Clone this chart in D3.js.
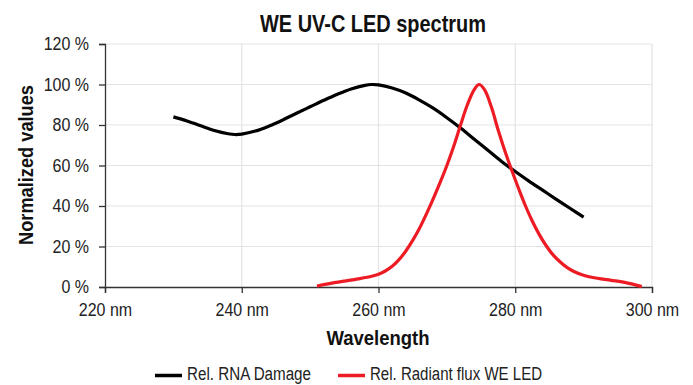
<!DOCTYPE html>
<html>
<head>
<meta charset="utf-8">
<script src="https://cdn.jsdelivr.net/npm/d3@7"></script>
<style>
  body { margin: 0; background: #fff; }
  svg text { font-family: 'Liberation Sans Narrow', 'Liberation Sans', Arial, sans-serif; }
</style>
</head>
<body>
<svg id="chart" width="693" height="385"></svg>
<script>
// ---------- DATA ----------
const xTicks = [220, 240, 260, 280, 300];
const yTicks = [0, 20, 40, 60, 80, 100, 120];

// Rel. RNA Damage (wavelength nm, %)
const rnaWave = [230, 232, 234, 236, 238, 239, 240, 242, 244, 246, 248, 250, 252, 254, 256, 258, 259, 260, 262, 264, 266, 268, 270, 272, 274, 276, 278, 280, 282, 284, 286, 288, 290];
const rnaValue = [84, 82, 79.6, 77.3, 75.7, 75.3, 75.5, 77, 79.5, 82.5, 85.8, 89, 92.2, 95.2, 97.8, 99.6, 100, 99.8, 98.3, 95.8, 92.3, 88.3, 83.6, 78.5, 73, 67.5, 62, 57, 52.3, 47.8, 43.3, 38.9, 34.5];

// Rel. Radiant flux WE LED (wavelength nm, %)
const ledWave = [251, 253, 255, 257, 259, 260, 261, 262, 263, 264, 265, 266, 267, 268, 269, 270, 271, 272, 273, 274, 274.7, 275.5, 276.5, 277.5, 278.5, 279.5, 280.5, 281.5, 282.5, 283.5, 284.5, 285.5, 286.5, 287.5, 288.5, 290, 292, 294, 296, 298.5];
const ledValue = [0.5, 1.8, 2.9, 4, 5.3, 6.3, 7.9, 10.2, 13.5, 17.8, 23, 29, 36, 43.5, 51.5, 60, 69.5, 80, 90, 97.5, 100, 97.5, 89, 77.5, 67, 57.5, 48.5, 40, 32.5, 26, 20.5, 16, 12.6, 9.8, 7.8, 5.8, 4.3, 3.3, 2.3, 0.2];

const seriesNames = ['Rel. RNA Damage', 'Rel. Radiant flux WE LED'];
const seriesColors = ['#000000', '#ed1c24'];

// ---------- CHART ----------
const svg = d3.select('#chart');
const margin = { top: 44, right: 41, bottom: 98, left: 105 };
const width = +svg.attr('width');
const height = +svg.attr('height');
const w = width - margin.left - margin.right;
const h = height - margin.top - margin.bottom;

const g = svg.append('g').attr('transform', `translate(${margin.left},${margin.top})`);

const x = d3.scaleLinear().domain([220, 300]).range([0, w]);
const y = d3.scaleLinear().domain([0, 120]).range([h, 0]);

// gridlines
g.append('g')
  .selectAll('line')
  .data(yTicks.filter((d) => d > 0))
  .join('line')
  .attr('x1', 0)
  .attr('x2', w)
  .attr('y1', (d) => y(d))
  .attr('y2', (d) => y(d))
  .attr('stroke', '#e3e3e3')
  .attr('stroke-width', 1.2);

g.append('g')
  .selectAll('line')
  .data(xTicks.filter((d) => d > 220))
  .join('line')
  .attr('x1', (d) => x(d))
  .attr('x2', (d) => x(d))
  .attr('y1', 0)
  .attr('y2', h)
  .attr('stroke', '#e3e3e3')
  .attr('stroke-width', 1.2);

// axes
const yAxis = g.append('g')
  .call(d3.axisLeft(y).tickValues(yTicks).tickSize(6).tickPadding(10).tickFormat((d) => d + ' %'));
const xAxis = g.append('g')
  .attr('transform', `translate(0,${h})`)
  .call(d3.axisBottom(x).tickValues(xTicks).tickSize(6).tickPadding(10).tickFormat((d) => d + ' nm'));

// condensed look: measure at 16px, then draw taller glyphs squeezed to that width
[yAxis, xAxis].forEach((a) => {
  a.select('.domain').attr('stroke', '#333').attr('stroke-width', 1.3);
  a.selectAll('.tick line').attr('stroke', '#333').attr('stroke-width', 1.3);
  a.selectAll('.tick text')
    .attr('fill', '#222')
    .style('font-size', '16px')
    .each(function () {
      const len = this.getComputedTextLength();
      d3.select(this)
        .style('font-size', '18px')
        .attr('textLength', len)
        .attr('lengthAdjust', 'spacingAndGlyphs');
    });
});

// lines
const line = d3.line()
  .x((d) => x(d[0]))
  .y((d) => y(d[1]))
  .curve(d3.curveCatmullRom.alpha(0.5));

const rnaData = rnaWave.map((v, i) => [v, rnaValue[i]]);
const ledData = ledWave.map((v, i) => [v, ledValue[i]]);

[rnaData, ledData].forEach((data, i) => {
  g.append('path')
    .datum(data)
    .attr('fill', 'none')
    .attr('stroke', seriesColors[i])
    .attr('stroke-width', 3.2)
    .attr('stroke-linejoin', 'round')
    .attr('d', line);
});

// titles
svg.append('text')
  .attr('x', 373)
  .attr('y', 32)
  .attr('text-anchor', 'middle')
  .attr('textLength', 226)
  .attr('lengthAdjust', 'spacingAndGlyphs')
  .style('font-size', '24px')
  .style('font-weight', 'bold')
  .attr('fill', '#111')
  .text('WE UV-C LED spectrum');

svg.append('text')
  .attr('x', 378)
  .attr('y', 345)
  .attr('text-anchor', 'middle')
  .attr('textLength', 103)
  .attr('lengthAdjust', 'spacingAndGlyphs')
  .style('font-size', '21px')
  .style('font-weight', 'bold')
  .attr('fill', '#111')
  .text('Wavelength');

svg.append('text')
  .attr('transform', 'translate(33,165) rotate(-90)')
  .attr('text-anchor', 'middle')
  .attr('textLength', 160)
  .attr('lengthAdjust', 'spacingAndGlyphs')
  .style('font-size', '21px')
  .style('font-weight', 'bold')
  .attr('fill', '#111')
  .text('Normalized values');

// legend
const legendX = [155, 338];
const legendTextLen = [124, 172];
const legend = svg.append('g');
seriesNames.forEach((name, i) => {
  legend.append('line')
    .attr('x1', legendX[i])
    .attr('x2', legendX[i] + 27)
    .attr('y1', 375.5)
    .attr('y2', 375.5)
    .attr('stroke', seriesColors[i])
    .attr('stroke-width', 3.5);
  legend.append('text')
    .attr('x', legendX[i] + 32)
    .attr('y', 380)
    .attr('textLength', legendTextLen[i])
    .attr('lengthAdjust', 'spacingAndGlyphs')
    .style('font-size', '18px')
    .attr('fill', '#222')
    .text(name);
});
</script>
</body>
</html>
